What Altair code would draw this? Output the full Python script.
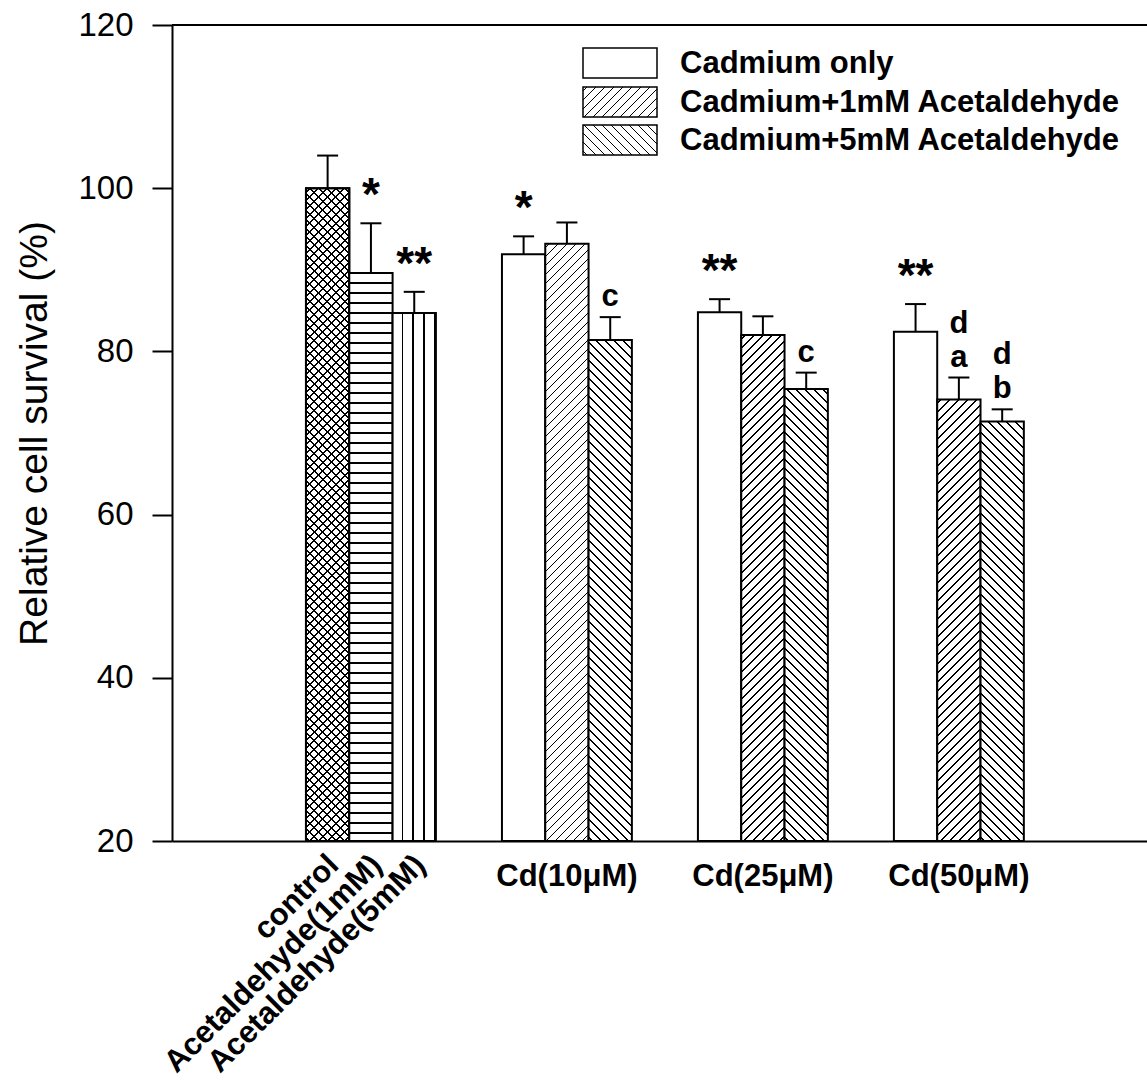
import math
import altair as alt
import pandas as pd

FONT = "Liberation Sans"

# ---------------- data ----------------
groups = ["control group", "Cd(10μM)", "Cd(25μM)", "Cd(50μM)"]
bar_group = [groups[0]] * 3 + [groups[1]] * 3 + [groups[2]] * 3 + [groups[3]] * 3
slots = [0, 1, 2] * 4
bar_names = ["control", "Acetaldehyde(1mM)", "Acetaldehyde(5mM)"] + [
    "Cadmium only", "Cadmium+1mM Acetaldehyde", "Cadmium+5mM Acetaldehyde"] * 3
values = [100.0, 89.6, 84.7, 91.9, 93.2, 81.4, 84.8, 82.0, 75.4, 82.4, 74.1, 71.4]
errors = [4.0, 6.1, 2.6, 2.2, 2.6, 2.8, 1.6, 2.3, 2.0, 3.4, 2.7, 1.5]
patterns = ["cross", "hline", "vline", "none", "fwd", "back",
            "none", "fwd", "back", "none", "fwd", "back"]
stars = ["", "*", "**", "*", "", "", "**", "", "", "**", "", ""]
letters_low = ["", "", "", "", "", "c", "", "", "c", "", "a", "b"]
letters_up = ["", "", "", "", "", "", "", "", "", "", "d", "d"]
control_labels = ["control", "Acetaldehyde(1mM)", "Acetaldehyde(5mM)"]
legend_labels = ["Cadmium only", "Cadmium+1mM Acetaldehyde", "Cadmium+5mM Acetaldehyde"]
legend_patterns = ["none", "fwd", "back"]
y_ticks = [20, 40, 60, 80, 100, 120]
y_domain = [20, 120]

df = pd.DataFrame({
    "bar": list(range(len(values))),
    "group": bar_group,
    "slot": slots,
    "name": bar_names,
    "value": values,
    "err": errors,
    "star": stars,
    "low": letters_low,
    "up": letters_up,
})
df["top"] = df["value"] + df["err"]

# ---------------- layout / style ----------------
W, H = 975, 816
PAD = {"left": 172, "top": 25, "right": 0, "bottom": 251}
P_IN, P_OUT, ALIGN = 0.337, 0.656, 0.521
step = W / (len(groups) - P_IN + 2 * P_OUT)
bar_w = step * (1 - P_IN) / 3


def bar_h(v):
    return (v - y_domain[0]) / (y_domain[1] - y_domain[0]) * H


def line_stops(total, period, lw, phase, bg, fg="black"):
    stops = [{"offset": 0, "color": bg}]
    c = phase
    while c - lw / 2 < total:
        a = max(0.0, (c - lw / 2) / total)
        b = min(1.0, (c + lw / 2) / total)
        if b > a:
            stops += [{"offset": round(a, 6), "color": bg},
                      {"offset": round(a, 6), "color": fg},
                      {"offset": round(b, 6), "color": fg},
                      {"offset": round(b, 6), "color": bg}]
        c += period
    stops.append({"offset": 1, "color": bg})
    return stops


def grad(kind, w, h, bg="white", period=9.0, lw=1.3, phase=4.0):
    if kind == "none":
        return "white"
    if kind == "hline":
        return {"gradient": "linear", "x1": 0, "y1": 0, "x2": 0, "y2": 1,
                "stops": line_stops(h, period, lw, phase, bg)}
    if kind == "vline":
        return {"gradient": "linear", "x1": 0, "y1": 0, "x2": 1, "y2": 0,
                "stops": line_stops(w, period, lw, phase, bg)}
    k = (w + h) / (w * w + h * h)
    stops = line_stops(w + h, period, lw * math.sqrt(2), phase, bg)
    if kind == "fwd":
        return {"gradient": "linear", "x1": 0, "y1": 0, "x2": k * w, "y2": k * h, "stops": stops}
    return {"gradient": "linear", "x1": 0, "y1": 1, "x2": k * w, "y2": 1 - k * h, "stops": stops}


def X():
    return alt.X("group:N", sort=groups,
                 scale=alt.Scale(domain=groups, paddingInner=P_IN, paddingOuter=P_OUT, align=ALIGN),
                 axis=alt.Axis(title=None, labelAngle=0,
                               labelExpr="datum.value == 'control group' ? '' : datum.value",
                               labelFontSize=31, labelFontWeight="bold", labelColor="black",
                               labelFont=FONT, labelPadding=20, ticks=False,
                               domainColor="black", domainWidth=2, grid=False,
                               labelBaseline="top"))


def XO():
    return alt.XOffset("slot:O", scale=alt.Scale(domain=[0, 1, 2], paddingInner=0, paddingOuter=0))


def Y(field):
    return alt.Y(field, type="quantitative",
                 scale=alt.Scale(domain=y_domain, nice=False, zero=False),
                 axis=alt.Axis(title="Relative cell survival (%)", values=y_ticks, grid=False,
                               domainColor="black", domainWidth=2, tickColor="black",
                               tickWidth=2, tickSize=20, labelFontSize=33, labelColor="black",
                               labelFont=FONT, labelPadding=19,
                               titleFontSize=39, titleFontWeight="normal", titleColor="black",
                               titleFont=FONT, titleAngle=270, titleX=-126, titleY=408,
                               titleAlign="center", titleBaseline="alphabetic"))


base = alt.Chart(df)
layers = []

# bars
for i, (pat, v) in enumerate(zip(patterns, values)):
    h = bar_h(v)
    sub = base.transform_filter(alt.datum.bar == i)
    enc = dict(x=X(), xOffset=XO(), y=Y("value"), y2=alt.datum(y_domain[0]))
    if pat == "cross":
        layers.append(sub.mark_bar(fill=grad("back", bar_w, h, period=8.7, lw=1.4),
                                   stroke="black", strokeWidth=2).encode(**enc))
        layers.append(sub.mark_bar(fill=grad("fwd", bar_w, h, bg="rgba(255,255,255,0)",
                                             period=8.7, lw=1.4),
                                   stroke="black", strokeWidth=2).encode(**enc))
    elif pat == "hline":
        layers.append(sub.mark_bar(fill=grad("hline", bar_w, h, period=10, lw=1.8, phase=10),
                                   stroke="black", strokeWidth=2).encode(**enc))
    elif pat == "vline":
        layers.append(sub.mark_bar(fill=grad("vline", bar_w, h, period=10.7, lw=1.8, phase=10),
                                   stroke="black", strokeWidth=2).encode(**enc))
    else:
        layers.append(sub.mark_bar(fill=grad(pat, bar_w, h), stroke="black", strokeWidth=2)
                      .encode(**enc))

# error bars (upper only)
layers.append(base.mark_rule(color="black", strokeWidth=2)
              .encode(x=X(), xOffset=XO(), y=Y("value"), y2="top:Q"))
layers.append(base.mark_tick(color="black", thickness=2, size=21, opacity=1)
              .encode(x=X(), xOffset=XO(), y=Y("top")))

# significance marks
txt = dict(font=FONT, fontWeight="bold", color="black", align="center", baseline="alphabetic")
layers.append(base.mark_text(fontSize=46, dy=-13, **txt)
              .encode(x=X(), xOffset=XO(), y=Y("top"), text="star:N"))
layers.append(base.mark_text(fontSize=31, dy=-11, **txt)
              .encode(x=X(), xOffset=XO(), y=Y("top"), text="low:N"))
layers.append(base.mark_text(fontSize=31, dy=-45, **txt)
              .encode(x=X(), xOffset=XO(), y=Y("top"), text="up:N"))

# top frame line at 120
top_df = pd.DataFrame({"v": [y_domain[1]]})
layers.append(alt.Chart(top_df).mark_rule(color="black", strokeWidth=2).encode(y=Y("v")))

# rotated labels for the control group
ctrl_df = df[df["group"] == groups[0]].copy()
ctrl_df["label"] = control_labels
layers.append(alt.Chart(ctrl_df).mark_text(angle=315, align="right", baseline="middle",
                                            fontSize=31, fontWeight="bold", font=FONT,
                                            color="black", dx=9)
              .encode(x=X(), xOffset=XO(), y=alt.value(H + 26), text="label:N"))

# legend
leg_top = [23, 62, 100]
for lab, pat, yt in zip(legend_labels, legend_patterns, leg_top):
    ldf = pd.DataFrame({"label": [lab]})
    layers.append(alt.Chart(ldf).mark_rect(fill=grad(pat, 74, 30), stroke="black", strokeWidth=1.5)
                  .encode(x=alt.value(411), x2=alt.value(485), y=alt.value(yt), y2=alt.value(yt + 30)))
    layers.append(alt.Chart(ldf).mark_text(align="left", baseline="middle", fontSize=31,
                                           fontWeight="bold", font=FONT, color="black")
                  .encode(x=alt.value(508), y=alt.value(yt + 16), text="label:N"))

chart = (alt.layer(*layers)
         .properties(width=W, height=H, autosize=alt.AutoSizeParams(type="none"), padding=PAD,
                     background="white")
         .configure_view(stroke=None))

chart.save("out.html", embed_options={"renderer": "svg", "actions": False})
